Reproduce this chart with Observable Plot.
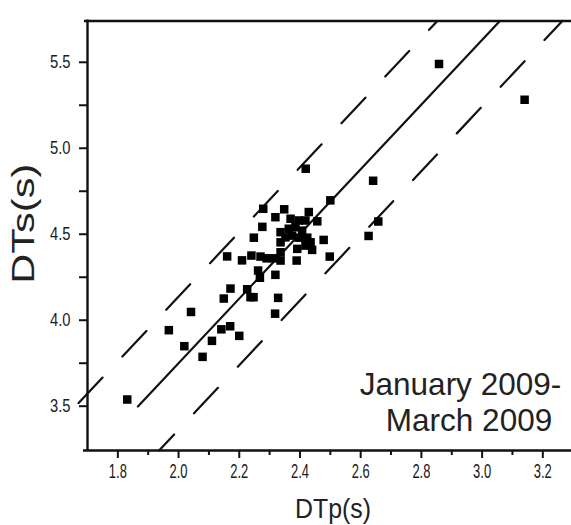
<!DOCTYPE html>
<html>
<head>
<meta charset="utf-8">
<script src="https://cdn.jsdelivr.net/npm/d3@7"></script>
<script src="https://cdn.jsdelivr.net/npm/@observablehq/plot@0.6"></script>
<style>
  html, body { margin: 0; padding: 0; background: #fff; }
  #chart svg { display: block; }
</style>
</head>
<body>
<div id="chart"></div>
<script>
// ---- data ----
const dtp = [1.831, 1.968, 2.019, 2.041, 2.079, 2.110, 2.141, 2.149, 2.160, 2.170,
             2.171, 2.200, 2.209, 2.226, 2.237, 2.247, 2.240, 2.248, 2.262, 2.268,
             2.276, 2.279, 2.270, 2.290, 2.314, 2.319, 2.319, 2.328, 2.318, 2.336,
             2.336, 2.336, 2.336, 2.348, 2.352, 2.363, 2.369, 2.374, 2.385, 2.389,
             2.391, 2.396, 2.396, 2.407, 2.418, 2.418, 2.424, 2.429, 2.435, 2.440,
             2.457, 2.478, 2.498, 2.500, 2.419, 2.626, 2.641, 2.658, 2.858, 3.140];
const dts = [3.539, 3.942, 3.849, 4.048, 3.787, 3.880, 3.947, 4.126, 4.371, 3.965,
             4.184, 3.909, 4.348, 4.180, 4.134, 4.134, 4.376, 4.480, 4.289, 4.247,
             4.543, 4.648, 4.370, 4.360, 4.360, 4.264, 4.599, 4.130, 4.038, 4.347,
             4.395, 4.453, 4.512, 4.645, 4.482, 4.532, 4.590, 4.492, 4.541, 4.347,
             4.415, 4.580, 4.480, 4.521, 4.580, 4.434, 4.480, 4.629, 4.453, 4.409,
             4.575, 4.467, 4.370, 4.697, 4.881, 4.490, 4.811, 4.574, 5.490, 5.282];

const xTicks = [1.8, 2.0, 2.2, 2.4, 2.6, 2.8, 3.0, 3.2];
const xMinorTicks = [1.9, 2.1, 2.3, 2.5, 2.7, 2.9, 3.1];
const yTicks = [3.5, 4.0, 4.5, 5.0, 5.5];
const yMinorTicks = [3.75, 4.25, 4.75, 5.25];
const xDomain = [1.7, 3.2945];
const yDomain = [3.2424, 5.74];

const xLabel = "DTp(s)";
const yLabel = "DTs(s)";
const periodLines = ["January 2009-", "March 2009"];

// fitted line (DTs = slope * DTp + intercept) and the +/- band
const fitSlope = 1.88;
const fitIntercept = -0.01;
const fitBand = 0.387;
const fitStartX = 1.866;      // where the solid line begins
const upperStartX = 1.6707;   // where the upper dashed line begins

// ---- derived tables ----
const points = dtp.map((x, i) => ({x, y: dts[i]}));
const yAt = (b, x) => fitSlope * x + b;
const xAtTop = b => (yDomain[1] - b) / fitSlope;
const xAtBottom = b => (yDomain[0] - b) / fitSlope;
const bUp = fitIntercept + fitBand;
const bLo = fitIntercept - fitBand;
const solidLine = [
  {x: fitStartX, y: yAt(fitIntercept, fitStartX)},
  {x: xAtTop(fitIntercept), y: yDomain[1]}
];
const upperLine = [
  {x: upperStartX, y: yAt(bUp, upperStartX)},
  {x: xAtTop(bUp), y: yDomain[1]}
];
const lowerLine = [
  {x: xAtBottom(bLo), y: yDomain[0]},
  {x: xAtTop(bLo), y: yDomain[1]}
];

const tickFont = "'Liberation Sans Narrow', 'Arial Narrow', 'Liberation Sans', Arial, sans-serif";
const mainFont = "'Liberation Sans', Arial, Helvetica, sans-serif";
const fmt = d3.format(".1f");

const chart = Plot.plot({
  width: 571,
  height: 525,
  marginLeft: 87,
  marginRight: 0,
  marginTop: 20.5,
  marginBottom: 75,
  style: {background: "#fff", color: "#222", fontFamily: mainFont},
  x: {domain: xDomain},
  y: {domain: yDomain},
  marks: [
    // frame lines (left, top, bottom)
    Plot.ruleX([xDomain[0]], {stroke: "#111", strokeWidth: 2.4, insetTop: -1}),
    Plot.ruleY([yDomain[1]], {stroke: "#111", strokeWidth: 2.4, insetLeft: -3}),
    Plot.ruleY([yDomain[0]], {stroke: "#111", strokeWidth: 2.4, insetLeft: -4}),
    // ticks
    Plot.axisX({ticks: xTicks, tickSize: 8, tickPadding: 5, tickFormat: fmt,
                strokeWidth: 2, stroke: "#111", fontSize: 20, fontFamily: tickFont,
                fill: "#1a1a1a", label: null, anchor: "bottom"}),
    Plot.axisX({ticks: xMinorTicks, tickSize: 5, text: null, strokeWidth: 2,
                stroke: "#111", label: null, anchor: "bottom"}),
    Plot.axisY({ticks: yTicks, tickSize: 8, tickPadding: 9, tickFormat: fmt,
                strokeWidth: 2, stroke: "#111", fontSize: 18, fontFamily: tickFont,
                fill: "#1a1a1a", label: null, anchor: "left"}),
    Plot.axisY({ticks: yMinorTicks, tickSize: 8, text: null, strokeWidth: 2,
                stroke: "#111", label: null, anchor: "left"}),
    // fit line and band
    Plot.line(solidLine, {x: "x", y: "y", stroke: "#111", strokeWidth: 2.2}),
    Plot.line(upperLine, {x: "x", y: "y", stroke: "#111", strokeWidth: 2.2,
                          strokeDasharray: "35,29"}),
    Plot.line(lowerLine, {x: "x", y: "y", stroke: "#111", strokeWidth: 2.2,
                          strokeDasharray: "35,29", strokeDashoffset: 13}),
    // observations
    Plot.dot(points, {x: "x", y: "y", symbol: "square", r: 4.8, fill: "#000", stroke: "none"}),
    // annotation
    Plot.text([periodLines[0]], {text: d => d, frameAnchor: "bottom-right", dx: -10.3, dy: -55.7,
              textAnchor: "end", lineAnchor: "bottom", fontSize: 31.5, fill: "#222",
              fontFamily: mainFont}),
    Plot.text([periodLines[1]], {text: d => d, frameAnchor: "bottom-right", dx: -19.3, dy: -20,
              textAnchor: "end", lineAnchor: "bottom", fontSize: 31.5, fill: "#222",
              fontFamily: mainFont}),
    // axis labels
    Plot.text([xLabel], {text: d => d, frameAnchor: "bottom", textAnchor: "middle", dx: 3.5, dy: 67,
              lineAnchor: "bottom", fontSize: 27.5, fill: "#222", fontFamily: mainFont}),
    Plot.text([yLabel], {text: d => d, frameAnchor: "left", textAnchor: "middle", rotate: -90,
              dx: -63, dy: -12, lineAnchor: "middle", fontSize: 31, fill: "#222",
              fontFamily: mainFont})
  ]
});

// fine-tune text widths to match the reference's condensed / stretched lettering
const xTickText = new Set(xTicks.map(fmt));
const yTickText = new Set(yTicks.map(fmt));
chart.querySelectorAll("text").forEach(t => {
  const s = t.textContent;
  if (xTickText.has(s)) {
    t.setAttribute("textLength", 18);
    t.setAttribute("lengthAdjust", "spacingAndGlyphs");
  } else if (yTickText.has(s)) {
    t.setAttribute("textLength", 20.5);
    t.setAttribute("lengthAdjust", "spacingAndGlyphs");
  } else if (s === yLabel) {
    t.setAttribute("textLength", 120);
    t.setAttribute("lengthAdjust", "spacingAndGlyphs");
  } else if (s === xLabel) {
    t.setAttribute("textLength", 76);
    t.setAttribute("lengthAdjust", "spacingAndGlyphs");
  }
});

document.getElementById("chart").appendChild(chart);
</script>
</body>
</html>
